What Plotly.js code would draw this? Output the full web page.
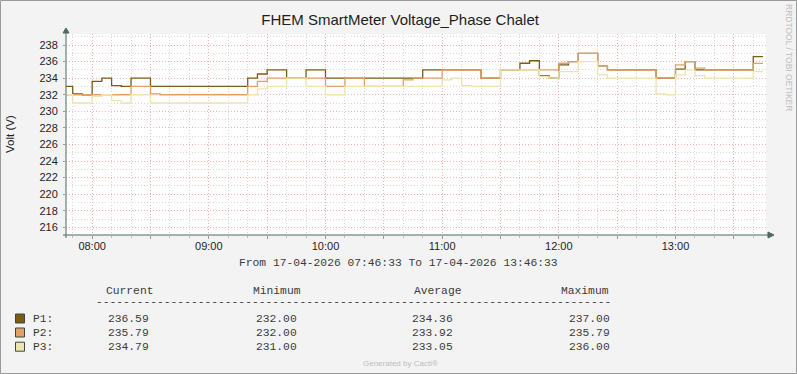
<!DOCTYPE html>
<html>
<head>
<meta charset="utf-8">
<script src="https://cdn.plot.ly/plotly-3.0.1.min.js"></script>
<style>
  html, body { margin: 0; padding: 0; background: #F3F3F3; }
  #chart { width: 797px; height: 374px; }
</style>
</head>
<body>
<div id="chart"></div>
<script>
// ---- data ----
const times = [
  "07:46:33","07:50","07:55","08:00","08:05","08:10","08:15","08:20","08:30","08:35",
  "09:20","09:25","09:30","09:40","09:50","10:00","10:10","10:20","10:40","10:45",
  "10:50","11:00","11:05","11:10","11:15","11:20","11:30","11:40","11:45","11:50",
  "11:55","12:00","12:05","12:10","12:20","12:25","12:50","12:55","13:00","13:05",
  "13:10","13:15","13:40","13:45"
];
const p1 = [233,232.1,232,233.6,234,233.1,233,234,233,233,
            234,234.5,235,234,235,234,234,234,234,234,
            235,235,235,235,235,234,235,235.8,236.1,234.3,
            234,235.6,236,237,235.5,235,234,234,235.1,236,
            235,235,236.59,236.59];
const p2 = [232,232,232,232,232,232,232,233,232.1,232,
            233,233.6,234,234,234,233,234,233,233.8,234,
            234,235,235,235,235,234,235,235,235,235,
            235,235.8,236,237,235.5,235,234,234,235.6,236,
            235.2,235,235.79,235.79];
const p3 = [232,231,231,231.8,232,231.3,231,232,231,231,
            232,232.7,233,234,233,232,233,233,233,233,
            233,233.8,234,233.1,233,233,235,235,235,234.2,
            234,234.8,234.8,236,234.4,234,232.1,232,234.4,235,
            234.3,234,234.79,234.79];
const seriesNames = ["P1", "P2", "P3"];
const seriesColors = ["#7B5C14", "#E2A066", "#EEE4AE"];
const legendHeaders = ["Current", "Minimum", "Average", "Maximum"];
const legendRows = [
  ["236.59", "232.00", "234.36", "237.00"],
  ["235.79", "232.00", "233.92", "235.79"],
  ["234.79", "231.00", "233.05", "236.00"]
];
const xTickVals = ["08:00","08:30","09:00","09:30","10:00","10:30","11:00","11:30","12:00","12:30","13:00","13:30"];
const xTickText = ["08:00","","09:00","","10:00","","11:00","","12:00","","13:00",""];
const titleText = "FHEM SmartMeter Voltage_Phase Chalet";
const yTitle = "Volt (V)";
const rangeText = "From 17-04-2026 07:46:33 To 17-04-2026 13:46:33";
const day = "2026-04-17 ";

// ---- geometry helpers (pixel -> paper) ----
const L = 66, R = 766, T = 34, B = 235;
const px = x => (x - L) / (R - L);
const py = y => (B - y) / (B - T);

const allSeries = [p1, p2, p3];
const traces = allSeries.map((vals, i) => ({
  type: "scatter", mode: "lines",
  x: times.map(t => day + t), y: vals,
  name: seriesNames[i],
  line: { color: seriesColors[i], width: 1.3, shape: "hv" },
  hoverinfo: "skip"
}));

const mono = { family: "Liberation Mono, DejaVu Sans Mono, monospace", size: 11.3, color: "#3C3C3C" };
const ann = [];
// y title
ann.push({ text: yTitle, xref: "paper", yref: "paper", x: px(10), y: py(134), textangle: -90,
  showarrow: false, xanchor: "center", yanchor: "middle",
  font: { family: "Liberation Sans, Arial, sans-serif", size: 11.5, color: "#222" } });
// range line
ann.push({ text: rangeText, xref: "paper", yref: "paper", x: px(398), y: py(263),
  showarrow: false, xanchor: "center", yanchor: "middle", font: mono });
// legend headers
const hdrRight = [155, 302.7, 464, 610.7];
legendHeaders.forEach((h, i) => ann.push({ text: h, xref: "paper", yref: "paper",
  x: px(hdrRight[i]), y: py(291), xanchor: "right", yanchor: "middle", showarrow: false, font: mono }));
ann.push({ text: "-".repeat(76), xref: "paper", yref: "paper", x: px(94), y: py(302),
  xanchor: "left", yanchor: "middle", showarrow: false, font: mono });
const valRight = [150.7, 299.3, 455, 611.7];
const rowY = [318.5, 332.5, 346.7];
const shapes = [];
legendRows.forEach((row, r) => {
  ann.push({ text: seriesNames[r] + ":", xref: "paper", yref: "paper", x: px(30.5), y: py(rowY[r]),
    xanchor: "left", yanchor: "middle", showarrow: false, font: mono });
  row.forEach((v, c) => ann.push({ text: v, xref: "paper", yref: "paper", x: px(valRight[c]), y: py(rowY[r]),
    xanchor: "right", yanchor: "middle", showarrow: false, font: mono }));
  shapes.push({ type: "rect", xref: "paper", yref: "paper",
    x0: px(15.5), x1: px(24.5), y0: py(rowY[r] - 4.5), y1: py(rowY[r] + 4.5),
    fillcolor: seriesColors[r], line: { color: "#3a4a40", width: 1 } });
});
// footer and side text
ann.push({ text: "Generated by Cacti®", xref: "paper", yref: "paper", x: px(400), y: py(364),
  xanchor: "center", yanchor: "middle", showarrow: false,
  font: { family: "Liberation Sans, Arial, sans-serif", size: 8, color: "#BDBDBD" } });
ann.push({ text: "RRDTOOL / TOBI OETIKER", xref: "paper", yref: "paper", x: px(789), y: py(57),
  xanchor: "center", yanchor: "middle", showarrow: false, textangle: 90,
  font: { family: "Liberation Sans, Arial, sans-serif", size: 8.5, color: "#BDBDBD" } });

// axes lines + arrows
const axisCol = "#4F6A5E";
shapes.push({ type: "line", xref: "paper", yref: "paper", x0: px(66), x1: px(66), y0: py(238), y1: py(31),
  line: { color: axisCol, width: 1 } });
shapes.push({ type: "line", xref: "paper", yref: "paper", x0: px(63), x1: px(770), y0: py(235), y1: py(235),
  line: { color: axisCol, width: 1 } });
shapes.push({ type: "path", xref: "paper", yref: "paper",
  path: `M ${px(63)} ${py(33)} L ${px(69)} ${py(33)} L ${px(66)} ${py(28)} Z`,
  fillcolor: axisCol, line: { color: axisCol, width: 1 } });
shapes.push({ type: "path", xref: "paper", yref: "paper",
  path: `M ${px(768)} ${py(232)} L ${px(768)} ${py(238)} L ${px(774)} ${py(235)} Z`,
  fillcolor: axisCol, line: { color: axisCol, width: 1 } });
// image frame
shapes.push({ type: "rect", xref: "paper", yref: "paper", x0: px(0.5), x1: px(796.5), y0: py(373.5), y1: py(0.5),
  line: { color: "#9A9A9A", width: 1 }, fillcolor: "rgba(0,0,0,0)" });

const tickFont = { family: "Liberation Sans, Arial, sans-serif", size: 11, color: "#1E1E1E" };
const dotted = "1px,2px";
const layout = {
  width: 797, height: 374, autosize: false,
  margin: { l: L, r: 797 - R, t: T, b: 374 - B, pad: 0 },
  paper_bgcolor: "#F3F3F3", plot_bgcolor: "#FFFFFF",
  showlegend: false,
  title: { text: titleText, x: 0.502, xref: "container", xanchor: "center",
    y: 1 - 20 / 374, yref: "container", yanchor: "middle",
    font: { family: "Liberation Sans, Arial, sans-serif", size: 15, color: "#1E1E1E" } },
  xaxis: {
    type: "date", range: [day + "07:46:33", day + "13:46:33"],
    tickvals: xTickVals.map(t => day + t), ticktext: xTickText,
    showgrid: true, gridcolor: "#F3B2B2", griddash: dotted, gridwidth: 1,
    ticks: "outside", ticklen: 3, tickcolor: "#999", ticklabelstandoff: -2,
    minor: { dtick: 600000, tick0: day + "08:00", showgrid: true, gridcolor: "#D8D8D8", griddash: dotted,
      ticks: "outside", ticklen: 2, tickcolor: "#BBB" },
    showline: false, zeroline: false, tickfont: tickFont, fixedrange: true
  },
  yaxis: {
    range: [215.07, 239.33], tick0: 216, dtick: 2,
    showgrid: true, gridcolor: "#F3B2B2", griddash: dotted, gridwidth: 1,
    ticks: "outside", ticklen: 2, tickcolor: "#999", ticklabelstandoff: 3,
    minor: { dtick: 1, showgrid: true, gridcolor: "#D8D8D8", griddash: dotted },
    showline: false, zeroline: false, tickfont: tickFont, fixedrange: true
  },
  annotations: ann, shapes: shapes
};
Plotly.newPlot("chart", traces, layout, { staticPlot: true, displayModeBar: false });
</script>
</body>
</html>
